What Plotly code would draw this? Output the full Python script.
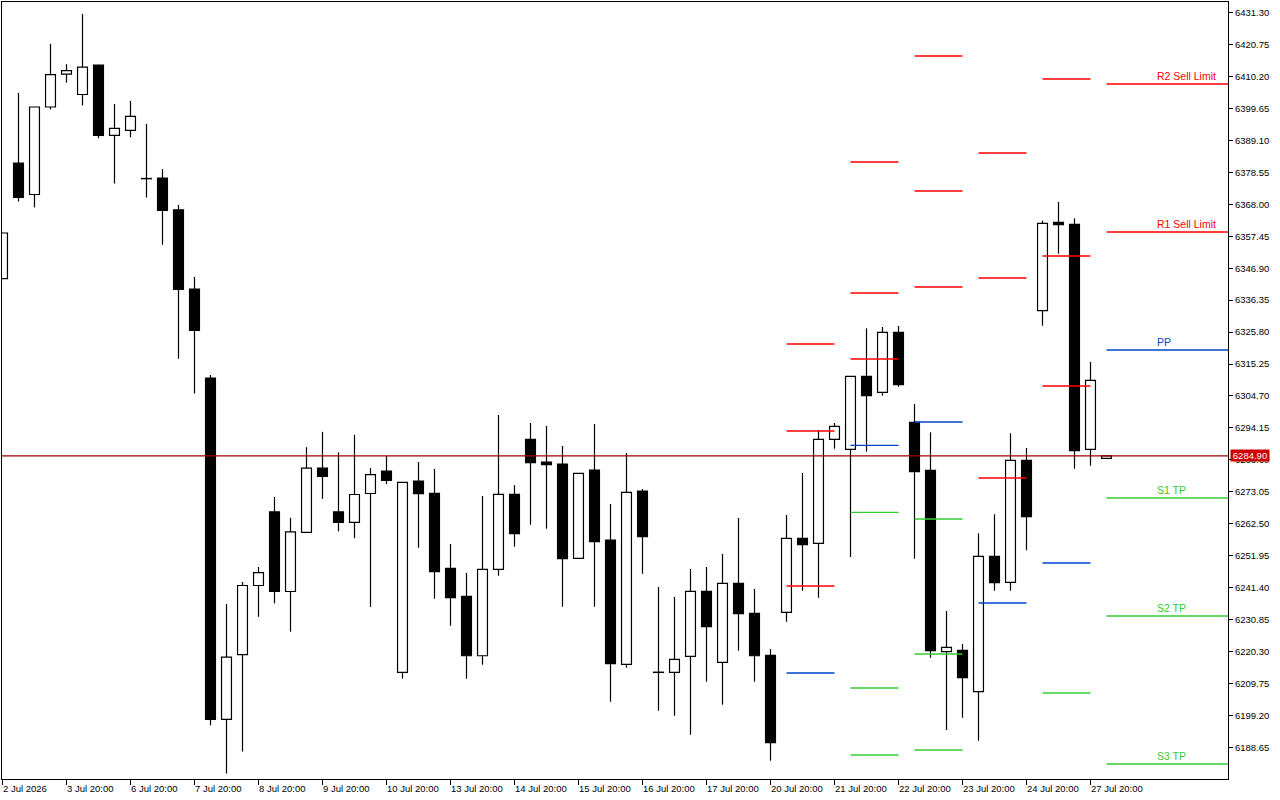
import plotly.graph_objects as go

# ---------------- data ----------------
opens = [6343.48, 6381.60, 6371.26, 6400.16, 6411.03, 6404.29, 6413.97, 6390.81, 6392.46, 6376.55,
         6376.67, 6366.17, 6340.04, 6310.64, 6197.90, 6219.27, 6242.10, 6266.41, 6240.11, 6259.67,
         6280.88, 6266.41, 6262.97, 6272.49, 6279.89, 6213.42, 6276.62, 6272.55, 6247.78, 6238.53,
         6218.90, 6247.45, 6272.22, 6290.39, 6282.89, 6282.23, 6251.08, 6280.25, 6257.13, 6216.06,
         6273.31, 6213.47, 6213.42, 6218.71, 6240.18, 6216.73, 6242.83, 6232.92, 6219.04, 6233.24,
         6257.69, 6256.04, 6290.39, 6287.09, 6311.20, 6305.92, 6325.74, 6296.01, 6280.15, 6220.23,
         6220.69, 6207.02, 6251.74, 6243.15, 6283.46, 6332.87, 6362.07, 6361.41, 6287.09, 6284.11]
highs = [6358.60, 6404.78, 6400.20, 6421.04, 6414.30, 6430.91, 6414.10, 6401.15, 6402.14, 6394.58,
         6379.65, 6367.79, 6344.00, 6311.63, 6235.99, 6243.25, 6248.21, 6271.33, 6264.46, 6287.78,
         6292.87, 6286.13, 6291.88, 6280.88, 6284.97, 6276.20, 6282.89, 6280.58, 6255.81, 6246.23,
         6271.66, 6298.42, 6275.26, 6295.78, 6294.79, 6288.18, 6279.20, 6295.45, 6269.02, 6285.87,
         6273.97, 6241.60, 6238.30, 6247.55, 6248.21, 6252.50, 6264.40, 6240.94, 6221.12, 6265.39,
         6279.26, 6293.46, 6295.78, 6311.30, 6327.06, 6327.49, 6327.82, 6302.05, 6292.70, 6233.67,
         6222.78, 6259.34, 6265.62, 6292.37, 6287.52, 6362.60, 6368.78, 6363.39, 6315.93, 6284.95]
lows = [6343.40, 6368.94, 6367.00, 6399.37, 6408.22, 6400.66, 6389.82, 6374.86, 6390.15, 6370.27,
        6354.67, 6317.02, 6305.52, 6195.92, 6180.00, 6187.23, 6231.76, 6236.18, 6226.84, 6259.60,
        6270.70, 6259.99, 6257.72, 6235.03, 6275.63, 6211.31, 6254.59, 6237.74, 6228.82, 6211.31,
        6215.93, 6245.33, 6254.92, 6262.18, 6260.86, 6235.10, 6251.00, 6235.10, 6203.71, 6214.94,
        6246.00, 6200.74, 6199.09, 6192.81, 6210.32, 6202.73, 6220.56, 6210.32, 6184.22, 6230.14,
        6240.38, 6238.07, 6287.29, 6251.51, 6286.30, 6304.80, 6307.77, 6250.95, 6218.25, 6194.36,
        6198.43, 6190.83, 6240.38, 6240.38, 6253.73, 6327.92, 6351.70, 6280.68, 6281.67, 6284.10]
closes = [6358.54, 6370.27, 6400.16, 6410.86, 6412.18, 6413.31, 6390.81, 6393.12, 6397.06, 6376.45,
          6366.00, 6339.88, 6326.40, 6197.90, 6218.45, 6242.10, 6246.36, 6240.11, 6259.84, 6280.88,
          6278.10, 6262.97, 6272.16, 6278.73, 6276.78, 6276.16, 6272.42, 6246.66, 6238.07, 6218.90,
          6247.45, 6272.22, 6259.21, 6282.66, 6282.00, 6250.95, 6279.16, 6256.57, 6216.26, 6272.88,
          6258.22, 6213.37, 6217.72, 6240.18, 6228.49, 6242.83, 6232.78, 6218.90, 6190.17, 6257.69,
          6255.58, 6290.39, 6294.69, 6311.20, 6304.80, 6325.74, 6308.43, 6279.69, 6220.56, 6221.68,
          6211.64, 6251.74, 6243.02, 6283.46, 6264.82, 6361.74, 6361.28, 6286.63, 6309.88, 6284.90]

x_tick_positions = [0, 4, 8, 12, 16, 20, 24, 28, 32, 36, 40, 44, 48, 52, 56, 60, 64, 68]
x_tick_labels = ["2 Jul 2026", "3 Jul 20:00", "6 Jul 20:00", "7 Jul 20:00", "8 Jul 20:00",
                 "9 Jul 20:00", "10 Jul 20:00", "13 Jul 20:00", "14 Jul 20:00", "15 Jul 20:00",
                 "16 Jul 20:00", "17 Jul 20:00", "20 Jul 20:00", "21 Jul 20:00", "22 Jul 20:00",
                 "23 Jul 20:00", "24 Jul 20:00", "27 Jul 20:00"]

y_tick_values = [6431.30, 6420.75, 6410.20, 6399.65, 6389.10, 6378.55, 6368.00, 6357.45,
                 6346.90, 6336.35, 6325.80, 6315.25, 6304.70, 6294.15, 6283.60, 6273.05,
                 6262.50, 6251.95, 6241.40, 6230.85, 6220.30, 6209.75, 6199.20, 6188.65]

# daily pivot segments (first and last bar of each day)
pivot_start = [49, 53, 57, 61, 65]
pivot_end = [52, 56, 60, 64, 68]
pivot_r3 = [6321.87, 6381.99, 6417.01, 6384.97, 6409.41]
pivot_r2 = [6293.13, 6338.72, 6372.41, 6343.67, 6350.94]
pivot_r1 = [6241.93, 6316.92, 6340.70, 6277.61, 6308.00]
pivot_pp = [6213.19, 6288.40, 6296.11, 6236.32, 6249.53]
pivot_s1 = [None, 6266.26, 6264.06, None, 6206.59]
pivot_s2 = [None, 6208.23, 6219.47, None, None]
pivot_s3 = [None, 6186.11, 6187.76, None, None]

# current day levels
current_start = 69
current_labels = ["R2 Sell Limit", "R1 Sell Limit", "PP", "S1 TP", "S2 TP", "S3 TP"]
current_values = [6407.76, 6358.87, 6319.89, 6270.99, 6232.01, 6183.13]
current_kinds = ["R", "R", "P", "S", "S", "S"]

last_price = 6284.90

# ---------------- styling ----------------
RED = "#ff0000"
BLUE = "#0044cc"
GREEN = "#33cc33"
PRICE_RED = "#a00000"
FONT = "Liberation Sans"
kind_color = {"R": RED, "P": BLUE, "S": GREEN}
LEVEL_W = 1.4

X_MIN, X_MAX = -0.031, 76.594
Y_MIN, Y_MAX = 6178.18, 6434.84

fig = go.Figure()

# wicks
n = len(opens)
wx, wy = [], []
for i in range(n):
    top = max(opens[i], closes[i])
    bot = min(opens[i], closes[i])
    if highs[i] > top:
        wx += [i, i, None]
        wy += [highs[i], top, None]
    if lows[i] < bot:
        wx += [i, i, None]
        wy += [bot, lows[i], None]
fig.add_trace(go.Scatter(x=wx, y=wy, mode="lines", line=dict(color="black", width=1.2),
                         hoverinfo="skip", showlegend=False))

# bodies
body_base = [min(o, c) for o, c in zip(opens, closes)]
body_h = [abs(c - o) for o, c in zip(opens, closes)]
body_col = ["white" if c > o else "black" for o, c in zip(opens, closes)]
fig.add_trace(go.Bar(x=list(range(n)), y=body_h, base=body_base, width=0.62,
                     marker=dict(color=body_col, line=dict(color="black", width=1.2)),
                     hoverinfo="skip", showlegend=False))

# pivot segments
def seg_trace(values, color):
    xs, ys = [], []
    for s, e, v in zip(pivot_start, pivot_end, values):
        if v is None:
            continue
        xs += [s, e, None]
        ys += [v, v, None]
    return go.Scatter(x=xs, y=ys, mode="lines", line=dict(color=color, width=LEVEL_W),
                      hoverinfo="skip", showlegend=False)

for vals, col in [(pivot_r3, RED), (pivot_r2, RED), (pivot_r1, RED), (pivot_pp, BLUE),
                  (pivot_s1, GREEN), (pivot_s2, GREEN), (pivot_s3, GREEN)]:
    fig.add_trace(seg_trace(vals, col))

# current day levels with labels
for lab, v, k in zip(current_labels, current_values, current_kinds):
    col = kind_color[k]
    fig.add_trace(go.Scatter(x=[current_start, X_MAX + 5], y=[v, v], mode="lines",
                             line=dict(color=col, width=LEVEL_W), hoverinfo="skip",
                             showlegend=False))
    fig.add_annotation(x=72, y=v, xref="x", yref="y", text=lab, showarrow=False,
                       xanchor="left", yanchor="bottom", yshift=0,
                       font=dict(family=FONT, size=10.5, color=col))

# last price line + label
fig.add_shape(type="line", xref="paper", x0=0, x1=1, yref="y", y0=last_price, y1=last_price,
              line=dict(color=PRICE_RED, width=1.2), layer="above")
fig.add_annotation(xref="paper", x=1, xshift=2, xanchor="left", yref="y", y=last_price,
                   yanchor="middle", text=f"{last_price:.2f}", showarrow=False,
                   bgcolor="#cc0000", width=38, height=11, borderpad=0,
                   font=dict(family=FONT, size=9.5, color="white"))

# x labels (left aligned at the tick)
for pos, lab in zip(x_tick_positions, x_tick_labels):
    fig.add_annotation(x=pos, xref="x", y=0, yref="paper", yanchor="top", xanchor="left",
                       yshift=-2, xshift=-2, text=lab, showarrow=False,
                       font=dict(family=FONT, size=9.5, color="black"))

fig.update_layout(
    width=1280, height=800,
    margin=dict(l=2, r=52, t=2, b=21),
    plot_bgcolor="white", paper_bgcolor="white",
    showlegend=False,
    xaxis=dict(range=[X_MIN, X_MAX], showgrid=False, zeroline=False,
               showline=True, mirror=True, linecolor="black", linewidth=1,
               ticks="outside", ticklen=5, tickcolor="black", tickwidth=1,
               tickvals=x_tick_positions, showticklabels=False, fixedrange=True),
    yaxis=dict(range=[Y_MIN, Y_MAX], side="right", showgrid=False, zeroline=False,
               showline=True, mirror=True, linecolor="black", linewidth=1,
               ticks="outside", ticklen=4, tickcolor="black", tickwidth=1,
               tickvals=y_tick_values, tickformat=".2f",
               tickfont=dict(family=FONT, size=9.5, color="black"), fixedrange=True),
)

fig.write_html("out.html", config={"displayModeBar": False},
               post_script="document.body.style.margin='0';")
